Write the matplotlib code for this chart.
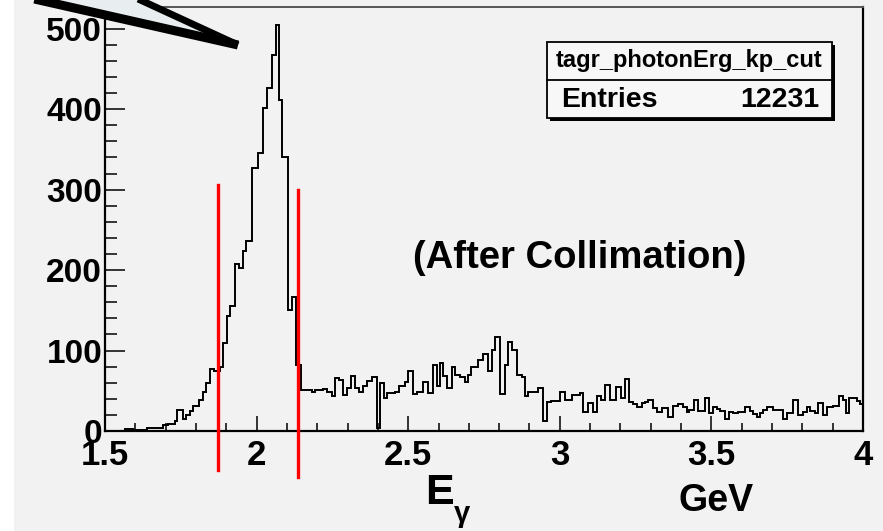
import matplotlib
matplotlib.use('Agg')
import matplotlib.pyplot as plt
from matplotlib.lines import Line2D
from matplotlib.patches import Rectangle, Polygon
from matplotlib.ticker import MultipleLocator

plt.rcParams['font.family'] = ['Liberation Sans', 'DejaVu Sans']
plt.rcParams['font.weight'] = 'bold'

# ---------------- data ----------------
bin_edges_gev = [
    1.500, 1.566, 1.592, 1.639, 1.691, 1.708, 1.731, 1.737, 1.757, 1.767,
    1.780, 1.790, 1.810, 1.823, 1.833, 1.846, 1.860, 1.879, 1.889, 1.902,
    1.912, 1.929, 1.942, 1.955, 1.965, 1.985, 2.005, 2.021, 2.034, 2.051,
    2.064, 2.074, 2.084, 2.104, 2.117, 2.130, 2.146, 2.183, 2.193, 2.219,
    2.232, 2.249, 2.259, 2.272, 2.285, 2.298, 2.311, 2.325, 2.338, 2.351,
    2.364, 2.381, 2.397, 2.407, 2.420, 2.430, 2.457, 2.470, 2.489, 2.499,
    2.516, 2.529, 2.549, 2.565, 2.582, 2.595, 2.605, 2.615, 2.628, 2.644,
    2.654, 2.671, 2.687, 2.697, 2.707, 2.730, 2.747, 2.763, 2.776, 2.786,
    2.803, 2.819, 2.829, 2.842, 2.859, 2.875, 2.885, 2.895, 2.928, 2.945,
    2.958, 2.971, 3.001, 3.017, 3.040, 3.067, 3.077, 3.093, 3.110, 3.123,
    3.136, 3.149, 3.166, 3.185, 3.202, 3.215, 3.228, 3.241, 3.255, 3.271,
    3.281, 3.291, 3.307, 3.321, 3.337, 3.357, 3.373, 3.390, 3.406, 3.420,
    3.426, 3.443, 3.456, 3.479, 3.492, 3.505, 3.519, 3.528, 3.545, 3.558,
    3.571, 3.588, 3.611, 3.627, 3.637, 3.650, 3.660, 3.670, 3.683, 3.703,
    3.736, 3.749, 3.769, 3.786, 3.802, 3.815, 3.825, 3.842, 3.852, 3.868,
    3.881, 3.901, 3.921, 3.934, 3.944, 3.954, 3.980, 3.990, 4.000,
]
counts = [
    0, 2, 1, 4, 7, 9, 12, 26, 15, 20,
    25, 31, 38, 49, 60, 77, 75, 79, 109, 143,
    155, 208, 203, 224, 236, 327, 345, 401, 426, 467,
    505, 411, 341, 150, 167, 82, 51, 49, 51, 52,
    48, 43, 66, 63, 45, 53, 68, 53, 48, 56,
    62, 67, 4, 60, 41, 47, 49, 56, 61, 75,
    46, 49, 61, 47, 82, 56, 85, 68, 53, 80,
    70, 67, 61, 70, 80, 88, 96, 74, 101, 117,
    46, 82, 111, 101, 70, 67, 44, 49, 54, 13,
    36, 37, 49, 38, 45, 47, 24, 35, 24, 44,
    38, 57, 38, 55, 41, 65, 36, 34, 30, 35,
    36, 38, 28, 23, 28, 17, 31, 34, 30, 24,
    26, 38, 25, 41, 22, 30, 27, 25, 15, 24,
    22, 24, 30, 25, 21, 18, 22, 26, 30, 26,
    15, 22, 38, 20, 24, 30, 25, 22, 35, 20,
    30, 31, 44, 38, 22, 41, 37, 34,
]
assert len(bin_edges_gev) == len(counts) + 1

x_ticks = [1.5, 2.0, 2.5, 3.0, 3.5, 4.0]
x_tick_labels = ['1.5', '2', '2.5', '3', '3.5', '4']
y_ticks = [0, 100, 200, 300, 400, 500]
y_tick_labels = ['0', '100', '200', '300', '400', '500']

cut_low_gev, cut_low_span = 1.873, (-48, 306)
cut_high_gev, cut_high_span = 2.137, (-57, 300)

hist_name = 'tagr_photonErg_kp_cut'
entries_label = 'Entries'
entries_value = '12231'
annotation = '(After Collimation)'

# ---------------- figure ----------------
W, H = 883, 531
BG = '#f2f2f2'
fig = plt.figure(figsize=(W / 100, H / 100), dpi=100, facecolor=BG)


def fx(x):
    return x / W


def fy(y):
    return 1 - y / H


ax = fig.add_axes([fx(105), fy(431), 758 / W, 424 / H], facecolor=BG)
ax.stairs(counts, bin_edges_gev, color='black', lw=1.4, zorder=3)
ax.set_xlim(1.5, 4.0)
ax.set_ylim(0, 527)

ax.plot([cut_low_gev] * 2, cut_low_span, color='red', lw=2.4, clip_on=False, zorder=5)
ax.plot([cut_high_gev] * 2, cut_high_span, color='red', lw=2.4, clip_on=False, zorder=5)

ax.set_xticks(x_ticks)
ax.set_xticklabels(x_tick_labels)
ax.set_yticks(y_ticks)
ax.set_yticklabels(y_tick_labels)
ax.xaxis.set_minor_locator(MultipleLocator(0.1))
ax.yaxis.set_minor_locator(MultipleLocator(20))

ax.tick_params(axis='y', which='major', direction='in', length=14.5, width=1.1,
               labelsize=24, pad=2, left=True, right=False)
ax.tick_params(axis='y', which='minor', direction='in', length=8.6, width=1.1,
               left=True, right=False)
ax.tick_params(axis='x', which='major', direction='in', length=10.8, width=1.1,
               labelsize=25, pad=6, bottom=True, top=False)
ax.tick_params(axis='x', which='minor', direction='in', length=5.8, width=1.1,
               bottom=True, top=False)
for lbl in ax.get_xticklabels() + ax.get_yticklabels():
    lbl.set_fontweight('bold')

for side, sp in ax.spines.items():
    sp.set_linewidth(1.6)
    sp.set_color('black')
ax.spines['top'].set_color('#555555')
ax.spines['top'].set_linewidth(1.4)

# axis titles
fig.text(fx(439), fy(493), 'E', fontsize=31, fontweight='bold', ha='center', va='center')
fig.text(fx(462), fy(514), 'γ', fontsize=21, fontweight='bold', ha='center', va='center')
fig.text(fx(716), fy(501), 'GeV', fontsize=27, fontweight='bold', ha='center', va='center')

# annotation
fig.text(fx(580), fy(258), annotation, fontsize=27.5, fontweight='bold', ha='center', va='center')

# stats box
bx0, by0, bx1, by1 = 547, 42, 832, 118
fig.add_artist(Rectangle((fx(bx0 + 3), fy(by1 + 3)), (bx1 - bx0) / W, (by1 - by0) / H,
                         transform=fig.transFigure, facecolor='black', edgecolor='black', lw=0))
fig.add_artist(Rectangle((fx(bx0), fy(by1)), (bx1 - bx0) / W, (by1 - by0) / H,
                         transform=fig.transFigure, facecolor='#f7f7f7', edgecolor='black', lw=1.3))
fig.add_artist(Line2D([fx(bx0), fx(bx1)], [fy(80), fy(80)], transform=fig.transFigure,
                      color='black', lw=1.3))
fig.text(fx((bx0 + bx1) / 2), fy(61), hist_name, fontsize=17, fontweight='bold',
         ha='center', va='center')
fig.text(fx(561), fy(100), entries_label, fontsize=20.5, fontweight='bold', ha='left', va='center')
fig.text(fx(819), fy(100), entries_value, fontsize=20.5, fontweight='bold', ha='right', va='center')

# pointer lines at top-left
tip = (238, 45)
fig.add_artist(Polygon([(fx(40), fy(0)), (fx(140), fy(0)), (fx(tip[0]), fy(tip[1]))],
                       closed=True, transform=fig.transFigure, facecolor='#e8eef0',
                       edgecolor='none', zorder=1))
fig.add_artist(Line2D([fx(30), fx(tip[0])], [fy(-2), fy(tip[1])], transform=fig.transFigure,
                      color='black', lw=6.5, solid_capstyle='butt', zorder=6))
fig.add_artist(Line2D([fx(136), fx(tip[0])], [fy(-2), fy(tip[1])], transform=fig.transFigure,
                      color='black', lw=5, solid_capstyle='butt', zorder=6))

# white strip at the very left edge
fig.add_artist(Rectangle((0, 0), 14 / W, 1, transform=fig.transFigure,
                         facecolor='white', edgecolor='none', zorder=0))

fig.savefig('out.png', dpi=100, facecolor=BG)
